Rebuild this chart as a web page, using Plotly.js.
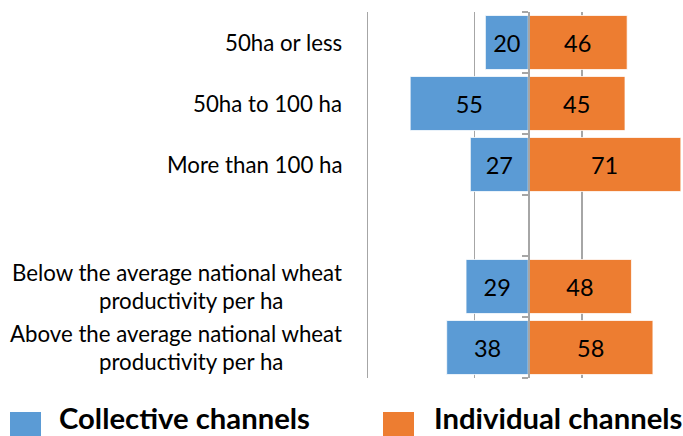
<!DOCTYPE html>
<html><head><meta charset="utf-8">
<script src="https://cdn.plot.ly/plotly-3.0.1.min.js"></script>
<style>html,body{margin:0;padding:0;background:#fff}#chart{width:683px;height:436px}</style>
</head><body><div id="chart"></div>
<script>
// ---- data ----
const categories = ["50ha or less", "50ha to 100 ha", "More than 100 ha",
  "Below the average national wheat productivity per ha",
  "Above the average national wheat productivity per ha"];
const axisOrder = ["50ha or less", "50ha to 100 ha", "More than 100 ha", "gap",
  "Below the average national wheat productivity per ha",
  "Above the average national wheat productivity per ha"];
const categoryLabelLines = [["50ha or less"], ["50ha to 100 ha"], ["More than 100 ha"],
  ["Below the average national wheat", "productivity per ha"],
  ["Above the average national wheat", "productivity per ha"]];
const collectiveValues = [20, 55, 27, 29, 38];
const individualValues = [46, 45, 71, 48, 58];
const seriesNames = ["Collective channels", "Individual channels"];
const seriesColors = ["#5B9BD5", "#ED7D31"];
const gridValues = [-75, -25, 25, 75];

// ---- layout geometry ----
const W = 683, H = 436, L = 364, R = 0, T = 12, B = 58;
const PW = W - L - R, PH = H - T - B;
const pxX = x => (x - L) / PW;
const pxY = y => (H - B - y) / PH;
const xRange = [-76.5, 72];
const FONT = "Lato";

function fit(text, weight, target) {
  const c = document.createElement("canvas").getContext("2d");
  c.font = weight + " 100px " + FONT;
  return 100 * target / c.measureText(text).width;
}
const labelSize = fit("Below the average national wheat", 400, 331);
const dataSize = 23.5;
const legendSize = fit("Collective channels", 700, 251);

const pos = categories.map(c => axisOrder.indexOf(c));
const boundaries = axisOrder.map((_, i) => i - 0.5).concat([axisOrder.length - 0.5]);

function barTrace(vals, sign, i) {
  return {
    type: "bar", orientation: "h",
    x: vals.map(v => sign * v), y: pos,
    text: vals.map(String),
    textposition: "inside", insidetextanchor: "middle", textangle: 0,
    constraintext: "none",
    textfont: {family: FONT, size: dataSize, color: "#000"},
    marker: {color: seriesColors[i], line: {color: "#ffffff", width: 0.75}},
    width: 0.885, name: seriesNames[i], showlegend: false, hoverinfo: "none"
  };
}
const traces = [barTrace(collectiveValues, -1, 0), barTrace(individualValues, 1, 1)];

const labelRight = 344;       // right edge of first label line (px)
const secondLineCenter = 191; // centre of wrapped second line (px)
const lineGap = 14;
const annotations = [];
categoryLabelLines.forEach((lines, i) => {
  const font = {family: FONT, size: labelSize, color: "#000"};
  if (lines.length === 1) {
    annotations.push({text: lines[0], xref: "paper", x: pxX(labelRight), xanchor: "right",
      yref: "y", y: pos[i], yanchor: "middle", showarrow: false, font: font});
  } else {
    annotations.push({text: lines[0], xref: "paper", x: pxX(labelRight), xanchor: "right",
      yref: "y", y: pos[i], yshift: lineGap, yanchor: "middle", showarrow: false, font: font});
    annotations.push({text: lines[1], xref: "paper", x: pxX(secondLineCenter), xanchor: "center",
      yref: "y", y: pos[i], yshift: -lineGap, yanchor: "middle", showarrow: false, font: font});
  }
});
const legendSquares = [[10, 41], [383, 414]];
const legendTextX = [57, 432];
const shapes = [];
seriesNames.forEach((n, i) => {
  shapes.push({type: "rect", xref: "paper", yref: "paper",
    x0: pxX(legendSquares[i][0]), x1: pxX(legendSquares[i][1]),
    y0: pxY(436), y1: pxY(412), fillcolor: seriesColors[i], line: {width: 0}});
  annotations.push({text: "<b>" + n + "</b>", xref: "paper", yref: "paper",
    x: pxX(legendTextX[i]), y: pxY(417), xanchor: "left", yanchor: "middle",
    showarrow: false, font: {family: FONT, size: legendSize, color: "#000"}});
});

const layout = {
  width: W, height: H, margin: {l: L, r: R, t: T, b: B, pad: 0},
  paper_bgcolor: "#fff", plot_bgcolor: "#fff",
  barmode: "relative", showlegend: false,
  font: {family: FONT, color: "#000"},
  xaxis: {range: xRange, tickmode: "array", tickvals: gridValues, showticklabels: false,
    ticks: "", showgrid: true, gridcolor: "#A6A6A6", gridwidth: 1.3,
    zeroline: false, showline: false, fixedrange: true},
  yaxis: {range: [axisOrder.length - 0.5, -0.5], anchor: "free",
    position: (0 - xRange[0]) / (xRange[1] - xRange[0]),
    tickmode: "array", tickvals: boundaries, showticklabels: false,
    ticks: "outside", ticklen: 6, tickcolor: "#A6A6A6", tickwidth: 1.3,
    showline: true, linecolor: "#A6A6A6", linewidth: 1.3,
    showgrid: false, zeroline: false, fixedrange: true},
  annotations: annotations, shapes: shapes
};
Plotly.newPlot("chart", traces, layout, {staticPlot: true, displayModeBar: false});
</script></body></html>
